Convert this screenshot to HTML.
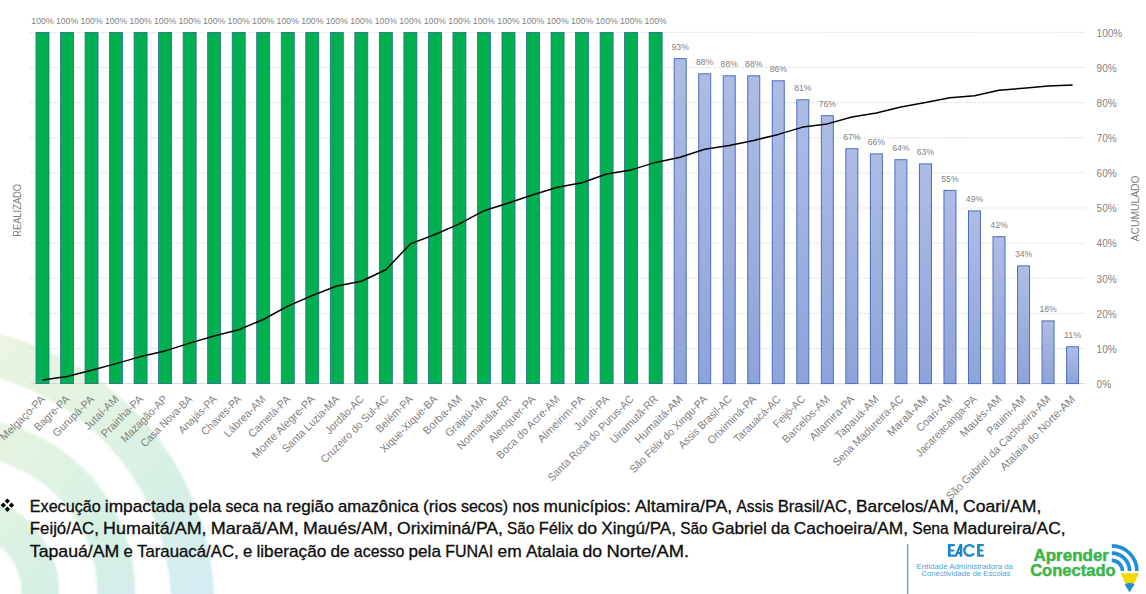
<!DOCTYPE html>
<html><head><meta charset="utf-8">
<style>
html,body{margin:0;padding:0;background:#fff;}
body{width:1146px;height:594px;position:relative;overflow:hidden;font-family:"Liberation Sans",sans-serif;}
svg{position:absolute;left:0;top:0;font-family:"Liberation Sans",sans-serif;}
.dl{font-size:9px;fill:#7F7F7F;text-anchor:middle;}
.cl{font-size:11.0px;fill:#7F7F7F;text-anchor:end;}
.ax{font-size:10px;fill:#7F7F7F;}
.at{font-size:10px;fill:#7F7F7F;text-anchor:middle;}
.bt{font-size:16.2px;fill:#0D0D0D;stroke:#0D0D0D;stroke-width:0.3px;}
.es{font-size:7.4px;fill:#4BA3DD;}
.ac{font-size:16.5px;font-weight:bold;fill:#3DB54A;stroke:#3DB54A;stroke-width:0.5px;}
</style></head><body>
<svg width="1146" height="594" viewBox="0 0 1146 594">
<defs><linearGradient id="wm" gradientUnits="userSpaceOnUse" x1="0" y1="330" x2="230" y2="594"><stop offset="0" stop-color="#EBF4E0"/><stop offset="0.33" stop-color="#E2F3E1"/><stop offset="0.64" stop-color="#D6F0E4"/><stop offset="0.78" stop-color="#D4EEEA"/><stop offset="0.93" stop-color="#D5EBF3"/><stop offset="1" stop-color="#D5EAF5"/></linearGradient><filter id="blr" x="-20%" y="-20%" width="140%" height="140%"><feGaussianBlur stdDeviation="1.2"/></filter><linearGradient id="bl" x1="0" y1="0" x2="0" y2="1"><stop offset="0" stop-color="#AEBCE5"/><stop offset="1" stop-color="#8EA3DA"/></linearGradient></defs><g filter="url(#blr)"><circle cx="-38.8" cy="592.3" r="79.0" fill="none" stroke="url(#wm)" stroke-width="38"/><circle cx="-38.8" cy="592.3" r="155.0" fill="none" stroke="url(#wm)" stroke-width="38"/><circle cx="-65.7" cy="606.5" r="258.5" fill="none" stroke="url(#wm)" stroke-width="43"/></g><line x1="30.2" y1="348.48" x2="1085" y2="348.48" stroke="#D9D9D9" stroke-width="0.8" stroke-dasharray="2.6 1.33"/><line x1="30.2" y1="313.36" x2="1085" y2="313.36" stroke="#D9D9D9" stroke-width="0.8" stroke-dasharray="2.6 1.33"/><line x1="30.2" y1="278.24" x2="1085" y2="278.24" stroke="#D9D9D9" stroke-width="0.8" stroke-dasharray="2.6 1.33"/><line x1="30.2" y1="243.12" x2="1085" y2="243.12" stroke="#D9D9D9" stroke-width="0.8" stroke-dasharray="2.6 1.33"/><line x1="30.2" y1="208.00" x2="1085" y2="208.00" stroke="#D9D9D9" stroke-width="0.8" stroke-dasharray="2.6 1.33"/><line x1="30.2" y1="172.88" x2="1085" y2="172.88" stroke="#D9D9D9" stroke-width="0.8" stroke-dasharray="2.6 1.33"/><line x1="30.2" y1="137.76" x2="1085" y2="137.76" stroke="#D9D9D9" stroke-width="0.8" stroke-dasharray="2.6 1.33"/><line x1="30.2" y1="102.64" x2="1085" y2="102.64" stroke="#D9D9D9" stroke-width="0.8" stroke-dasharray="2.6 1.33"/><line x1="30.2" y1="67.52" x2="1085" y2="67.52" stroke="#D9D9D9" stroke-width="0.8" stroke-dasharray="2.6 1.33"/><line x1="30.2" y1="32.40" x2="1085" y2="32.40" stroke="#D9D9D9" stroke-width="0.8" stroke-dasharray="2.6 1.33"/><line x1="30.2" y1="383.60" x2="1085" y2="383.60" stroke="#D9D9D9" stroke-width="1"/><rect x="36.00" y="32.40" width="13.0" height="351.20" fill="#00B050" stroke="#23728A" stroke-width="0.8"/><text x="42.50" y="24.20" class="dl" textLength="22.3" lengthAdjust="spacingAndGlyphs">100%</text><rect x="60.53" y="32.40" width="13.0" height="351.20" fill="#00B050" stroke="#23728A" stroke-width="0.8"/><text x="67.03" y="24.20" class="dl" textLength="22.3" lengthAdjust="spacingAndGlyphs">100%</text><rect x="85.05" y="32.40" width="13.0" height="351.20" fill="#00B050" stroke="#23728A" stroke-width="0.8"/><text x="91.55" y="24.20" class="dl" textLength="22.3" lengthAdjust="spacingAndGlyphs">100%</text><rect x="109.58" y="32.40" width="13.0" height="351.20" fill="#00B050" stroke="#23728A" stroke-width="0.8"/><text x="116.08" y="24.20" class="dl" textLength="22.3" lengthAdjust="spacingAndGlyphs">100%</text><rect x="134.10" y="32.40" width="13.0" height="351.20" fill="#00B050" stroke="#23728A" stroke-width="0.8"/><text x="140.60" y="24.20" class="dl" textLength="22.3" lengthAdjust="spacingAndGlyphs">100%</text><rect x="158.63" y="32.40" width="13.0" height="351.20" fill="#00B050" stroke="#23728A" stroke-width="0.8"/><text x="165.13" y="24.20" class="dl" textLength="22.3" lengthAdjust="spacingAndGlyphs">100%</text><rect x="183.16" y="32.40" width="13.0" height="351.20" fill="#00B050" stroke="#23728A" stroke-width="0.8"/><text x="189.66" y="24.20" class="dl" textLength="22.3" lengthAdjust="spacingAndGlyphs">100%</text><rect x="207.68" y="32.40" width="13.0" height="351.20" fill="#00B050" stroke="#23728A" stroke-width="0.8"/><text x="214.18" y="24.20" class="dl" textLength="22.3" lengthAdjust="spacingAndGlyphs">100%</text><rect x="232.21" y="32.40" width="13.0" height="351.20" fill="#00B050" stroke="#23728A" stroke-width="0.8"/><text x="238.71" y="24.20" class="dl" textLength="22.3" lengthAdjust="spacingAndGlyphs">100%</text><rect x="256.73" y="32.40" width="13.0" height="351.20" fill="#00B050" stroke="#23728A" stroke-width="0.8"/><text x="263.23" y="24.20" class="dl" textLength="22.3" lengthAdjust="spacingAndGlyphs">100%</text><rect x="281.26" y="32.40" width="13.0" height="351.20" fill="#00B050" stroke="#23728A" stroke-width="0.8"/><text x="287.76" y="24.20" class="dl" textLength="22.3" lengthAdjust="spacingAndGlyphs">100%</text><rect x="305.79" y="32.40" width="13.0" height="351.20" fill="#00B050" stroke="#23728A" stroke-width="0.8"/><text x="312.29" y="24.20" class="dl" textLength="22.3" lengthAdjust="spacingAndGlyphs">100%</text><rect x="330.31" y="32.40" width="13.0" height="351.20" fill="#00B050" stroke="#23728A" stroke-width="0.8"/><text x="336.81" y="24.20" class="dl" textLength="22.3" lengthAdjust="spacingAndGlyphs">100%</text><rect x="354.84" y="32.40" width="13.0" height="351.20" fill="#00B050" stroke="#23728A" stroke-width="0.8"/><text x="361.34" y="24.20" class="dl" textLength="22.3" lengthAdjust="spacingAndGlyphs">100%</text><rect x="379.36" y="32.40" width="13.0" height="351.20" fill="#00B050" stroke="#23728A" stroke-width="0.8"/><text x="385.86" y="24.20" class="dl" textLength="22.3" lengthAdjust="spacingAndGlyphs">100%</text><rect x="403.89" y="32.40" width="13.0" height="351.20" fill="#00B050" stroke="#23728A" stroke-width="0.8"/><text x="410.39" y="24.20" class="dl" textLength="22.3" lengthAdjust="spacingAndGlyphs">100%</text><rect x="428.42" y="32.40" width="13.0" height="351.20" fill="#00B050" stroke="#23728A" stroke-width="0.8"/><text x="434.92" y="24.20" class="dl" textLength="22.3" lengthAdjust="spacingAndGlyphs">100%</text><rect x="452.94" y="32.40" width="13.0" height="351.20" fill="#00B050" stroke="#23728A" stroke-width="0.8"/><text x="459.44" y="24.20" class="dl" textLength="22.3" lengthAdjust="spacingAndGlyphs">100%</text><rect x="477.47" y="32.40" width="13.0" height="351.20" fill="#00B050" stroke="#23728A" stroke-width="0.8"/><text x="483.97" y="24.20" class="dl" textLength="22.3" lengthAdjust="spacingAndGlyphs">100%</text><rect x="501.99" y="32.40" width="13.0" height="351.20" fill="#00B050" stroke="#23728A" stroke-width="0.8"/><text x="508.49" y="24.20" class="dl" textLength="22.3" lengthAdjust="spacingAndGlyphs">100%</text><rect x="526.52" y="32.40" width="13.0" height="351.20" fill="#00B050" stroke="#23728A" stroke-width="0.8"/><text x="533.02" y="24.20" class="dl" textLength="22.3" lengthAdjust="spacingAndGlyphs">100%</text><rect x="551.05" y="32.40" width="13.0" height="351.20" fill="#00B050" stroke="#23728A" stroke-width="0.8"/><text x="557.55" y="24.20" class="dl" textLength="22.3" lengthAdjust="spacingAndGlyphs">100%</text><rect x="575.57" y="32.40" width="13.0" height="351.20" fill="#00B050" stroke="#23728A" stroke-width="0.8"/><text x="582.07" y="24.20" class="dl" textLength="22.3" lengthAdjust="spacingAndGlyphs">100%</text><rect x="600.10" y="32.40" width="13.0" height="351.20" fill="#00B050" stroke="#23728A" stroke-width="0.8"/><text x="606.60" y="24.20" class="dl" textLength="22.3" lengthAdjust="spacingAndGlyphs">100%</text><rect x="624.62" y="32.40" width="13.0" height="351.20" fill="#00B050" stroke="#23728A" stroke-width="0.8"/><text x="631.12" y="24.20" class="dl" textLength="22.3" lengthAdjust="spacingAndGlyphs">100%</text><rect x="649.15" y="32.40" width="13.0" height="351.20" fill="#00B050" stroke="#23728A" stroke-width="0.8"/><text x="655.65" y="24.20" class="dl" textLength="22.3" lengthAdjust="spacingAndGlyphs">100%</text><rect x="674.18" y="58.65" width="12.0" height="324.95" fill="url(#bl)" stroke="#4A6EBD" stroke-width="1"/><text x="680.18" y="49.75" class="dl" textLength="17.28" lengthAdjust="spacingAndGlyphs">93%</text><rect x="698.70" y="73.80" width="12.0" height="309.80" fill="url(#bl)" stroke="#4A6EBD" stroke-width="1"/><text x="704.70" y="64.90" class="dl" textLength="17.28" lengthAdjust="spacingAndGlyphs">88%</text><rect x="723.23" y="75.80" width="12.0" height="307.80" fill="url(#bl)" stroke="#4A6EBD" stroke-width="1"/><text x="729.23" y="66.90" class="dl" textLength="17.28" lengthAdjust="spacingAndGlyphs">88%</text><rect x="747.75" y="75.80" width="12.0" height="307.80" fill="url(#bl)" stroke="#4A6EBD" stroke-width="1"/><text x="753.75" y="66.90" class="dl" textLength="17.28" lengthAdjust="spacingAndGlyphs">88%</text><rect x="772.28" y="80.80" width="12.0" height="302.80" fill="url(#bl)" stroke="#4A6EBD" stroke-width="1"/><text x="778.28" y="71.90" class="dl" textLength="17.28" lengthAdjust="spacingAndGlyphs">86%</text><rect x="796.81" y="99.80" width="12.0" height="283.80" fill="url(#bl)" stroke="#4A6EBD" stroke-width="1"/><text x="802.81" y="90.90" class="dl" textLength="17.28" lengthAdjust="spacingAndGlyphs">81%</text><rect x="821.33" y="115.70" width="12.0" height="267.90" fill="url(#bl)" stroke="#4A6EBD" stroke-width="1"/><text x="827.33" y="106.80" class="dl" textLength="17.28" lengthAdjust="spacingAndGlyphs">76%</text><rect x="845.86" y="148.70" width="12.0" height="234.90" fill="url(#bl)" stroke="#4A6EBD" stroke-width="1"/><text x="851.86" y="139.80" class="dl" textLength="17.28" lengthAdjust="spacingAndGlyphs">67%</text><rect x="870.38" y="153.90" width="12.0" height="229.70" fill="url(#bl)" stroke="#4A6EBD" stroke-width="1"/><text x="876.38" y="145.00" class="dl" textLength="17.28" lengthAdjust="spacingAndGlyphs">66%</text><rect x="894.91" y="159.70" width="12.0" height="223.90" fill="url(#bl)" stroke="#4A6EBD" stroke-width="1"/><text x="900.91" y="150.80" class="dl" textLength="17.28" lengthAdjust="spacingAndGlyphs">64%</text><rect x="919.44" y="163.90" width="12.0" height="219.70" fill="url(#bl)" stroke="#4A6EBD" stroke-width="1"/><text x="925.44" y="155.00" class="dl" textLength="17.28" lengthAdjust="spacingAndGlyphs">63%</text><rect x="943.96" y="190.40" width="12.0" height="193.20" fill="url(#bl)" stroke="#4A6EBD" stroke-width="1"/><text x="949.96" y="181.50" class="dl" textLength="17.28" lengthAdjust="spacingAndGlyphs">55%</text><rect x="968.49" y="210.90" width="12.0" height="172.70" fill="url(#bl)" stroke="#4A6EBD" stroke-width="1"/><text x="974.49" y="202.00" class="dl" textLength="17.28" lengthAdjust="spacingAndGlyphs">49%</text><rect x="993.01" y="236.70" width="12.0" height="146.90" fill="url(#bl)" stroke="#4A6EBD" stroke-width="1"/><text x="999.01" y="227.80" class="dl" textLength="17.28" lengthAdjust="spacingAndGlyphs">42%</text><rect x="1017.54" y="265.90" width="12.0" height="117.70" fill="url(#bl)" stroke="#4A6EBD" stroke-width="1"/><text x="1023.54" y="257.00" class="dl" textLength="17.28" lengthAdjust="spacingAndGlyphs">34%</text><rect x="1042.07" y="320.90" width="12.0" height="62.70" fill="url(#bl)" stroke="#4A6EBD" stroke-width="1"/><text x="1048.07" y="312.00" class="dl" textLength="17.28" lengthAdjust="spacingAndGlyphs">18%</text><rect x="1066.59" y="346.80" width="12.0" height="36.80" fill="url(#bl)" stroke="#4A6EBD" stroke-width="1"/><text x="1072.59" y="337.90" class="dl" textLength="17.28" lengthAdjust="spacingAndGlyphs">11%</text><polyline points="42.50,380.10 67.03,376.60 91.55,370.20 116.08,363.60 140.60,356.60 165.13,350.90 189.66,343.10 214.18,336.00 238.71,329.70 263.23,319.50 287.76,306.10 312.29,295.50 336.81,286.00 361.34,281.20 385.86,269.70 410.39,243.90 434.92,234.50 459.44,223.90 483.97,210.70 508.49,203.00 533.02,194.80 557.55,187.30 582.07,182.80 606.60,174.00 631.12,169.90 655.65,162.40 680.18,157.20 704.70,149.20 729.23,145.40 753.75,140.40 778.28,134.40 802.81,127.10 827.33,123.90 851.86,117.00 876.38,113.00 900.91,106.90 925.44,102.60 949.96,97.70 974.49,95.70 999.01,90.20 1023.54,88.20 1048.07,85.90 1072.59,85.00" fill="none" stroke="#000" stroke-width="1.5" stroke-linejoin="round"/><text transform="translate(45.70,399.8) rotate(-45)" class="cl" textLength="58.60" lengthAdjust="spacingAndGlyphs">Melgaço-PA</text><text transform="translate(70.23,399.8) rotate(-45)" class="cl" textLength="44.89" lengthAdjust="spacingAndGlyphs">Bagre-PA</text><text transform="translate(94.75,399.8) rotate(-45)" class="cl" textLength="53.23" lengthAdjust="spacingAndGlyphs">Gurupá-PA</text><text transform="translate(119.28,399.8) rotate(-45)" class="cl" textLength="43.53" lengthAdjust="spacingAndGlyphs">Jutaí-AM</text><text transform="translate(143.80,399.8) rotate(-45)" class="cl" textLength="54.06" lengthAdjust="spacingAndGlyphs">Prainha-PA</text><text transform="translate(168.33,399.8) rotate(-45)" class="cl" textLength="61.04" lengthAdjust="spacingAndGlyphs">Mazagão-AP</text><text transform="translate(192.86,399.8) rotate(-45)" class="cl" textLength="67.69" lengthAdjust="spacingAndGlyphs">Casa Nova-BA</text><text transform="translate(217.38,399.8) rotate(-45)" class="cl" textLength="49.12" lengthAdjust="spacingAndGlyphs">Anajás-PA</text><text transform="translate(241.91,399.8) rotate(-45)" class="cl" textLength="51.35" lengthAdjust="spacingAndGlyphs">Chaves-PA</text><text transform="translate(266.43,399.8) rotate(-45)" class="cl" textLength="53.88" lengthAdjust="spacingAndGlyphs">Lábrea-AM</text><text transform="translate(290.96,399.8) rotate(-45)" class="cl" textLength="54.29" lengthAdjust="spacingAndGlyphs">Cametá-PA</text><text transform="translate(315.49,399.8) rotate(-45)" class="cl" textLength="83.88" lengthAdjust="spacingAndGlyphs">Monte Alegre-PA</text><text transform="translate(340.01,399.8) rotate(-45)" class="cl" textLength="75.52" lengthAdjust="spacingAndGlyphs">Santa Luzia-MA</text><text transform="translate(364.54,399.8) rotate(-45)" class="cl" textLength="49.73" lengthAdjust="spacingAndGlyphs">Jordão-AC</text><text transform="translate(389.06,399.8) rotate(-45)" class="cl" textLength="90.51" lengthAdjust="spacingAndGlyphs">Cruzeiro do Sul-AC</text><text transform="translate(413.59,399.8) rotate(-45)" class="cl" textLength="47.62" lengthAdjust="spacingAndGlyphs">Belém-PA</text><text transform="translate(438.12,399.8) rotate(-45)" class="cl" textLength="75.94" lengthAdjust="spacingAndGlyphs">Xique-Xique-BA</text><text transform="translate(462.64,399.8) rotate(-45)" class="cl" textLength="49.97" lengthAdjust="spacingAndGlyphs">Borba-AM</text><text transform="translate(487.17,399.8) rotate(-45)" class="cl" textLength="53.30" lengthAdjust="spacingAndGlyphs">Grajaú-MA</text><text transform="translate(511.69,399.8) rotate(-45)" class="cl" textLength="71.41" lengthAdjust="spacingAndGlyphs">Normandia-RR</text><text transform="translate(536.22,399.8) rotate(-45)" class="cl" textLength="61.55" lengthAdjust="spacingAndGlyphs">Alenquer-PA</text><text transform="translate(560.75,399.8) rotate(-45)" class="cl" textLength="84.79" lengthAdjust="spacingAndGlyphs">Boca do Acre-AM</text><text transform="translate(585.27,399.8) rotate(-45)" class="cl" textLength="61.35" lengthAdjust="spacingAndGlyphs">Almeirim-PA</text><text transform="translate(609.80,399.8) rotate(-45)" class="cl" textLength="44.21" lengthAdjust="spacingAndGlyphs">Juruti-PA</text><text transform="translate(634.32,399.8) rotate(-45)" class="cl" textLength="116.09" lengthAdjust="spacingAndGlyphs">Santa Rosa do Purus-AC</text><text transform="translate(658.85,399.8) rotate(-45)" class="cl" textLength="62.75" lengthAdjust="spacingAndGlyphs">Uiramutã-RR</text><text transform="translate(683.38,399.8) rotate(-45)" class="cl" textLength="62.51" lengthAdjust="spacingAndGlyphs">Humaitá-AM</text><text transform="translate(707.90,399.8) rotate(-45)" class="cl" textLength="104.61" lengthAdjust="spacingAndGlyphs">São Félix do Xingu-PA</text><text transform="translate(732.43,399.8) rotate(-45)" class="cl" textLength="70.17" lengthAdjust="spacingAndGlyphs">Assis Brasil-AC</text><text transform="translate(756.95,399.8) rotate(-45)" class="cl" textLength="64.04" lengthAdjust="spacingAndGlyphs">Oriximiná-PA</text><text transform="translate(781.48,399.8) rotate(-45)" class="cl" textLength="61.42" lengthAdjust="spacingAndGlyphs">Tarauacá-AC</text><text transform="translate(806.01,399.8) rotate(-45)" class="cl" textLength="40.45" lengthAdjust="spacingAndGlyphs">Feijó-AC</text><text transform="translate(830.53,399.8) rotate(-45)" class="cl" textLength="62.16" lengthAdjust="spacingAndGlyphs">Barcelos-AM</text><text transform="translate(855.06,399.8) rotate(-45)" class="cl" textLength="58.55" lengthAdjust="spacingAndGlyphs">Altamira-PA</text><text transform="translate(879.58,399.8) rotate(-45)" class="cl" textLength="56.58" lengthAdjust="spacingAndGlyphs">Tapauá-AM</text><text transform="translate(904.11,399.8) rotate(-45)" class="cl" textLength="94.72" lengthAdjust="spacingAndGlyphs">Sena Madureira-AC</text><text transform="translate(928.64,399.8) rotate(-45)" class="cl" textLength="52.56" lengthAdjust="spacingAndGlyphs">Maraã-AM</text><text transform="translate(953.16,399.8) rotate(-45)" class="cl" textLength="46.29" lengthAdjust="spacingAndGlyphs">Coari-AM</text><text transform="translate(977.69,399.8) rotate(-45)" class="cl" textLength="81.64" lengthAdjust="spacingAndGlyphs">Jacareacanga-PA</text><text transform="translate(1002.21,399.8) rotate(-45)" class="cl" textLength="53.85" lengthAdjust="spacingAndGlyphs">Maués-AM</text><text transform="translate(1026.74,399.8) rotate(-45)" class="cl" textLength="50.94" lengthAdjust="spacingAndGlyphs">Pauini-AM</text><text transform="translate(1051.27,399.8) rotate(-45)" class="cl" textLength="142.45" lengthAdjust="spacingAndGlyphs">São Gabriel da Cachoeira-AM</text><text transform="translate(1075.79,399.8) rotate(-45)" class="cl" textLength="100.90" lengthAdjust="spacingAndGlyphs">Atalaia do Norte-AM</text><text x="1096.6" y="387.90" class="ax">0%</text><text x="1096.6" y="352.78" class="ax">10%</text><text x="1096.6" y="317.66" class="ax">20%</text><text x="1096.6" y="282.54" class="ax">30%</text><text x="1096.6" y="247.42" class="ax">40%</text><text x="1096.6" y="212.30" class="ax">50%</text><text x="1096.6" y="177.18" class="ax">60%</text><text x="1096.6" y="142.06" class="ax">70%</text><text x="1096.6" y="106.94" class="ax">80%</text><text x="1096.6" y="71.82" class="ax">90%</text><text x="1096.6" y="36.70" class="ax">100%</text><text transform="translate(20.9,210.35) rotate(-90)" class="at" textLength="53" lengthAdjust="spacingAndGlyphs">REALIZADO</text><text transform="translate(1138.9,208.4) rotate(-90)" class="at" textLength="66" lengthAdjust="spacingAndGlyphs">ACUMULADO</text><text x="29.80" y="511.8" class="bt" textLength="70.87" lengthAdjust="spacingAndGlyphs">Execução</text><text x="104.89" y="511.8" class="bt" textLength="79.78" lengthAdjust="spacingAndGlyphs">impactada</text><text x="188.89" y="511.8" class="bt" textLength="32.32" lengthAdjust="spacingAndGlyphs">pela</text><text x="225.43" y="511.8" class="bt" textLength="33.42" lengthAdjust="spacingAndGlyphs">seca</text><text x="263.07" y="511.8" class="bt" textLength="18.75" lengthAdjust="spacingAndGlyphs">na</text><text x="286.04" y="511.8" class="bt" textLength="47.65" lengthAdjust="spacingAndGlyphs">região</text><text x="337.91" y="511.8" class="bt" textLength="80.94" lengthAdjust="spacingAndGlyphs">amazônica</text><text x="423.07" y="511.8" class="bt" textLength="33.60" lengthAdjust="spacingAndGlyphs">(rios</text><text x="460.89" y="511.8" class="bt" textLength="47.29" lengthAdjust="spacingAndGlyphs">secos)</text><text x="512.40" y="511.8" class="bt" textLength="26.95" lengthAdjust="spacingAndGlyphs">nos</text><text x="543.57" y="511.8" class="bt" textLength="87.22" lengthAdjust="spacingAndGlyphs">municípios:</text><text x="635.01" y="511.8" class="bt" textLength="97.25" lengthAdjust="spacingAndGlyphs">Altamira/PA,</text><text x="736.48" y="511.8" class="bt" textLength="36.99" lengthAdjust="spacingAndGlyphs">Assis</text><text x="777.69" y="511.8" class="bt" textLength="74.11" lengthAdjust="spacingAndGlyphs">Brasil/AC,</text><text x="856.02" y="511.8" class="bt" textLength="102.86" lengthAdjust="spacingAndGlyphs">Barcelos/AM,</text><text x="963.10" y="511.8" class="bt" textLength="78.18" lengthAdjust="spacingAndGlyphs">Coari/AM,</text><text x="29.80" y="534.4" class="bt" textLength="69.10" lengthAdjust="spacingAndGlyphs">Feijó/AC,</text><text x="103.12" y="534.4" class="bt" textLength="103.42" lengthAdjust="spacingAndGlyphs">Humaitá/AM,</text><text x="210.76" y="534.4" class="bt" textLength="87.94" lengthAdjust="spacingAndGlyphs">Maraã/AM,</text><text x="302.91" y="534.4" class="bt" textLength="89.94" lengthAdjust="spacingAndGlyphs">Maués/AM,</text><text x="397.08" y="534.4" class="bt" textLength="105.79" lengthAdjust="spacingAndGlyphs">Oriximiná/PA,</text><text x="507.09" y="534.4" class="bt" textLength="27.36" lengthAdjust="spacingAndGlyphs">São</text><text x="538.68" y="534.4" class="bt" textLength="34.52" lengthAdjust="spacingAndGlyphs">Félix</text><text x="577.41" y="534.4" class="bt" textLength="19.65" lengthAdjust="spacingAndGlyphs">do</text><text x="601.29" y="534.4" class="bt" textLength="74.70" lengthAdjust="spacingAndGlyphs">Xingú/PA,</text><text x="680.21" y="534.4" class="bt" textLength="27.36" lengthAdjust="spacingAndGlyphs">São</text><text x="711.79" y="534.4" class="bt" textLength="54.89" lengthAdjust="spacingAndGlyphs">Gabriel</text><text x="770.90" y="534.4" class="bt" textLength="18.75" lengthAdjust="spacingAndGlyphs">da</text><text x="793.87" y="534.4" class="bt" textLength="114.11" lengthAdjust="spacingAndGlyphs">Cachoeira/AM,</text><text x="912.20" y="534.4" class="bt" textLength="36.61" lengthAdjust="spacingAndGlyphs">Sena</text><text x="953.03" y="534.4" class="bt" textLength="112.69" lengthAdjust="spacingAndGlyphs">Madureira/AC,</text><text x="29.80" y="557.0" class="bt" textLength="89.53" lengthAdjust="spacingAndGlyphs">Tapauá/AM</text><text x="123.55" y="557.0" class="bt" textLength="9.29" lengthAdjust="spacingAndGlyphs">e</text><text x="137.05" y="557.0" class="bt" textLength="101.71" lengthAdjust="spacingAndGlyphs">Tarauacá/AC,</text><text x="242.98" y="557.0" class="bt" textLength="9.29" lengthAdjust="spacingAndGlyphs">e</text><text x="256.49" y="557.0" class="bt" textLength="69.79" lengthAdjust="spacingAndGlyphs">liberação</text><text x="330.50" y="557.0" class="bt" textLength="19.10" lengthAdjust="spacingAndGlyphs">de</text><text x="353.82" y="557.0" class="bt" textLength="50.57" lengthAdjust="spacingAndGlyphs">acesso</text><text x="408.61" y="557.0" class="bt" textLength="32.32" lengthAdjust="spacingAndGlyphs">pela</text><text x="445.15" y="557.0" class="bt" textLength="48.11" lengthAdjust="spacingAndGlyphs">FUNAI</text><text x="497.48" y="557.0" class="bt" textLength="24.20" lengthAdjust="spacingAndGlyphs">em</text><text x="525.90" y="557.0" class="bt" textLength="52.45" lengthAdjust="spacingAndGlyphs">Atalaia</text><text x="582.56" y="557.0" class="bt" textLength="19.65" lengthAdjust="spacingAndGlyphs">do</text><text x="606.44" y="557.0" class="bt" textLength="82.64" lengthAdjust="spacingAndGlyphs">Norte/AM.</text><path d="M7.4 498.40000000000003L10.100000000000001 501.1 7.4 503.8 4.7 501.1ZM7.4 506.5L10.100000000000001 509.2 7.4 511.9 4.7 509.2ZM3.3 502.45L6.0 505.15 3.3 507.84999999999997 0.5999999999999996 505.15ZM11.5 502.45L14.2 505.15 11.5 507.84999999999997 8.8 505.15Z" fill="#000"/><rect x="907" y="544" width="1.4" height="50" fill="#5BA6D8"/><g fill="#1B86CC"><path d="M947.9 544.1H954.8V546.3H950.6V549.4H954.3V551.6H950.6V554.6H954.9V556.8H947.9Z"/><path d="M954.2 556.8L959.7 544.1H962.3V556.8H959.7V554.2H957.6L956.7 556.8Z M958.5 552H959.7V548.8Z"/><path d="M974.95 546.84A6.45 6.45 0 1 0 974.95 554.06L973.04 552.77A4.15 4.15 0 1 1 973.04 548.13Z"/><path d="M977.1 544.1H983.8V546.3H979.8V549.4H983.3V551.6H979.8V554.6H983.8V556.8H977.1Z"/></g><text x="916.5" y="568.5" class="es" textLength="96.5" lengthAdjust="spacingAndGlyphs">Entidade Administradora da</text><text x="921.4" y="576" class="es" textLength="89" lengthAdjust="spacingAndGlyphs">Conectividade de Escolas</text><text x="1033.4" y="561.2" class="ac" textLength="75.6" lengthAdjust="spacingAndGlyphs">Aprender</text><text x="1030.2" y="576" class="ac" textLength="85.4" lengthAdjust="spacingAndGlyphs">Conectado</text><path d="M1111.8 545.90A25.1 25.1 0 0 1 1136.90 571.0" fill="none" stroke="#1E8FD8" stroke-width="3.7"/><path d="M1111.8 553.20A17.8 17.8 0 0 1 1129.60 571.0" fill="none" stroke="#1E8FD8" stroke-width="3.7"/><path d="M1111.8 560.40A10.6 10.6 0 0 1 1122.40 571.0" fill="none" stroke="#1E8FD8" stroke-width="3.7"/><path d="M1120.7 573.2H1138.9L1129.5 592.3Z" fill="#F5D800"/><path d="M1124.7 584.5Q1129.8 581.8 1134.6 584.3L1129.5 592.3Z" fill="#1E8FD8"/>
</svg>
</body></html>
